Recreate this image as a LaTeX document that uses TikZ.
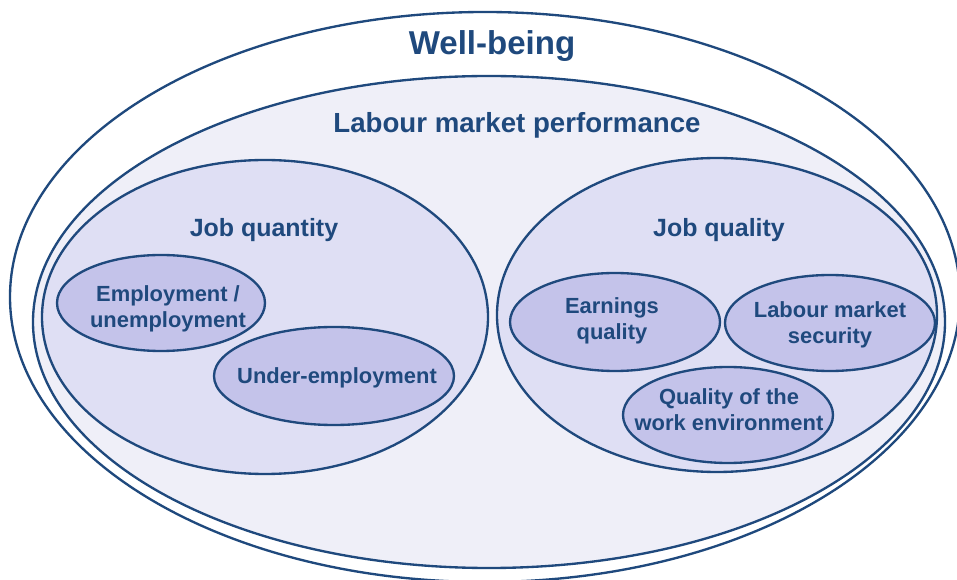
\documentclass[tikz,border=0pt]{standalone}
\usepackage{fontspec}
\setmainfont{Liberation Sans}
\usepackage{tikz}
\usetikzlibrary{shapes.geometric}
\definecolor{navy}{RGB}{31,73,125}
\definecolor{perffill}{RGB}{239,239,248}
\definecolor{jobfill}{RGB}{223,223,244}
\definecolor{itemfill}{RGB}{196,195,234}
\tikzset{
  oval/.style={ellipse, draw=navy, line width=2pt, inner sep=0pt},
  lbl/.style={text=navy, font=\bfseries, align=center, inner sep=0pt},
  small/.style={lbl, font=\bfseries\fontsize{18.7}{22.2}\selectfont},
}

\begin{document}
\begin{tikzpicture}
\useasboundingbox (0,0) rectangle (28.71,17.37);
\node[oval, fill=white, minimum width=28.5cm, minimum height=17.1cm] (WB) at (14.55,8.46) {};
\node[oval, fill=perffill, minimum width=27.36cm, minimum height=14.76cm] (LMP) at (14.67,7.71) {};
\node[oval, fill=jobfill, minimum width=13.38cm, minimum height=9.42cm] (JQn) at (7.95,7.86) {};
\node[oval, fill=jobfill, minimum width=13.2cm, minimum height=9.42cm] (JQl) at (21.51,7.92) {};
\node[oval, fill=itemfill, minimum width=6.24cm, minimum height=2.88cm] (Emp) at (4.83,8.28) {};
\node[oval, fill=itemfill, minimum width=7.2cm, minimum height=2.94cm] (Und) at (10.02,6.09) {};
\node[oval, fill=itemfill, minimum width=6.3cm, minimum height=2.94cm] (Ern) at (18.45,7.71) {};
\node[oval, fill=itemfill, minimum width=6.3cm, minimum height=2.88cm] (Sec) at (24.9,7.68) {};
\node[oval, fill=itemfill, minimum width=6.3cm, minimum height=2.88cm] (Env) at (21.84,4.92) {};

\node[lbl, font=\bfseries\fontsize{28.2}{34}\selectfont] (WBt) at (14.76,15.99) {Well-being};
\node[lbl, font=\bfseries\fontsize{23.6}{28}\selectfont] (LMPt) at (15.51,13.62) {Labour market performance};
\node[lbl, font=\bfseries\fontsize{21.3}{26}\selectfont] (JQnt) at (7.92,10.47) {Job quantity};
\node[lbl, font=\bfseries\fontsize{21.3}{26}\selectfont] (JQlt) at (21.57,10.47) {Job quality};
\node[small] (Empt) at (5.04,8.1) {Employment /\\unemployment};
\node[small] (Undt) at (10.11,6.03) {Under-employment};
\node[small] (Ernt) at (18.36,7.74) {Earnings\\quality};
\node[small] (Sect) at (24.9,7.62) {Labour market\\security};
\node[small] (Envt) at (21.87,5.07) {Quality of the\\work environment};
\end{tikzpicture}
\end{document}
